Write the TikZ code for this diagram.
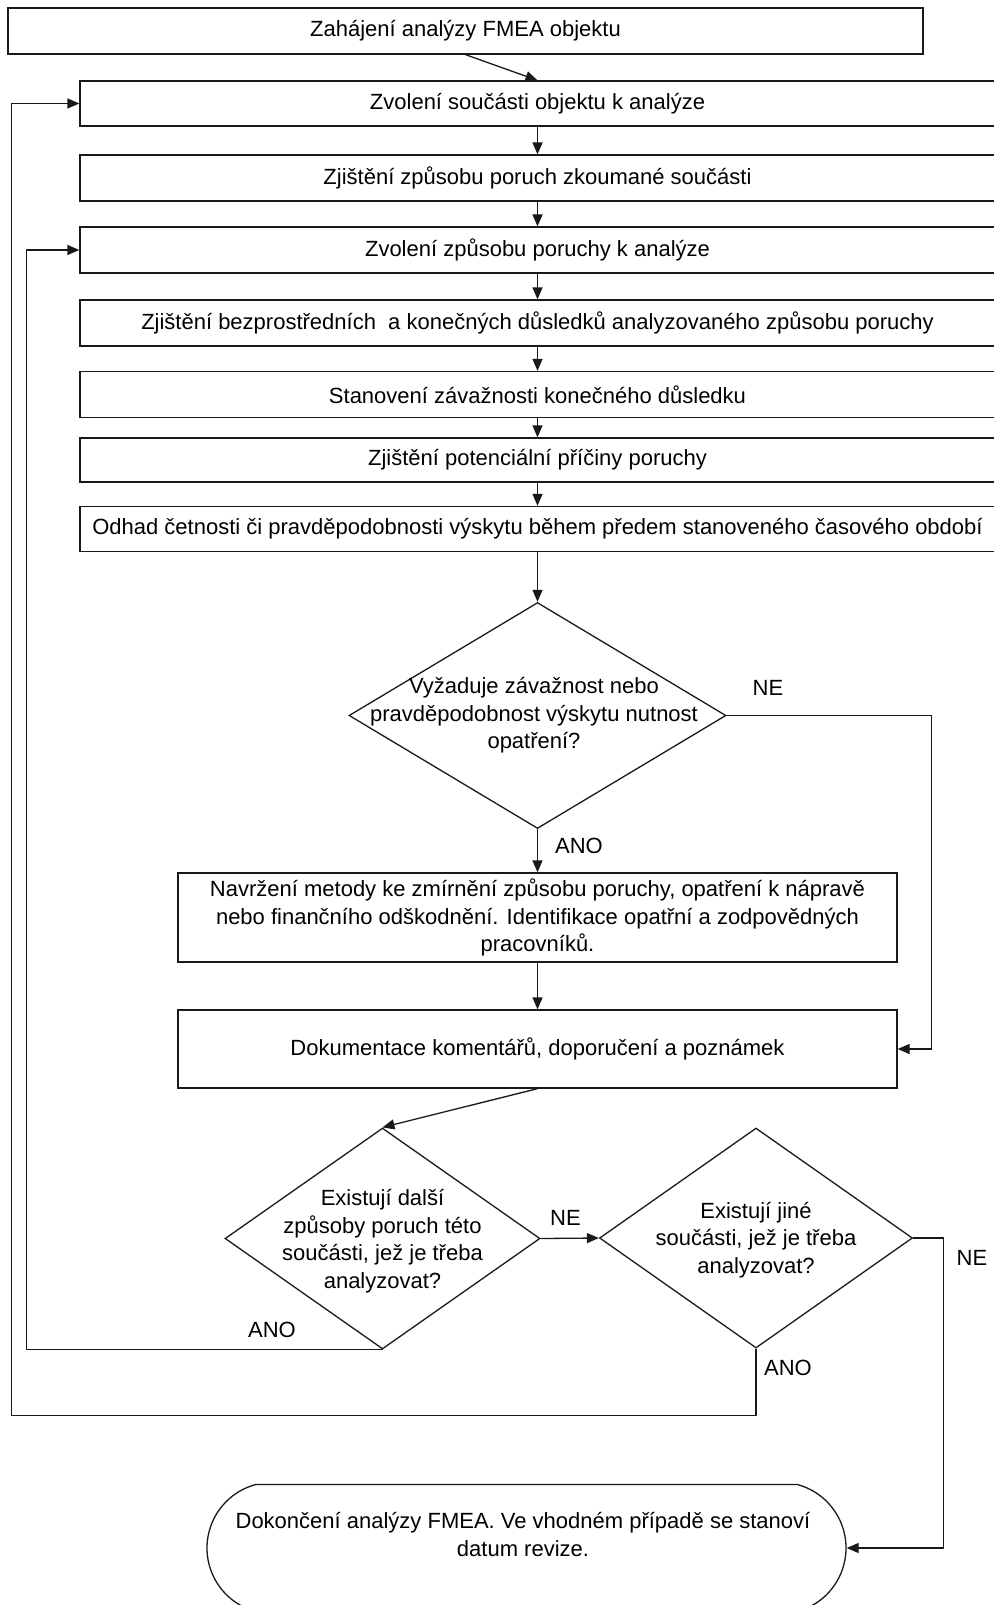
\documentclass[tikz,border=0pt]{standalone}
\usepackage{fontspec}
\setmainfont{Liberation Sans}
\usetikzlibrary{arrows.meta,shapes.geometric,shapes.misc}

\begin{document}
\begin{tikzpicture}[x=1pt,y=-1pt,
  line width=1.3pt,
  font=\fontsize{22}{27.5}\selectfont,
  box/.style={draw=black!90, rectangle, inner sep=0pt, minimum width=915pt},
  midbox/.style={draw=black!90, rectangle, inner sep=0pt, minimum width=719pt, align=center},
  decision/.style={draw=black!90, diamond, inner sep=0pt},
  txt/.style={inner sep=0pt, align=center},
  lbl/.style={inner sep=0pt},
  arr/.style={draw=black!90, -{Triangle[length=12pt,width=10pt]}},
  line/.style={draw=black!90}]

\useasboundingbox (0,0) rectangle (993,1605);

% process steps
\node[box, minimum height=46pt] (b1) at (465.5,31) {Zahájení analýzy FMEA objektu};
\node[box, minimum height=45pt] (b2) at (537.5,103.5) {Zvolení součásti objektu k analýze};
\node[box, minimum height=46pt] (b3) at (537.5,178) {Zjištění způsobu poruch zkoumané součásti};
\node[box, minimum height=46pt] (b4) at (537.5,250) {Zvolení způsobu poruchy k analýze};
\node[box, minimum height=46pt] (b5) at (537.5,323) {Zjištění bezprostředních\ \ a konečných důsledků analyzovaného způsobu poruchy};
\node[box, minimum height=46pt] (b6) at (537.5,394.5) {Stanovení závažnosti konečného důsledku};
\node[box, minimum height=44pt] (b7) at (537.5,460) {Zjištění potenciální příčiny poruchy};
\node[box, minimum height=45pt] (b8) at (537.5,529) {Odhad četnosti či pravděpodobnosti výskytu během předem stanoveného časového období};

% first decision
\node[decision, minimum width=377pt, minimum height=226pt] (d1) at (537.5,715.5) {};
\node[txt] (d1t) at (534,715.5) {Vyžaduje závažnost nebo\\pravděpodobnost výskytu nutnost\\opatření?};

\node[midbox, minimum height=89pt] (b9) at (537.5,917.5) {Navržení metody ke zmírnění způsobu poruchy, opatření k nápravě\\nebo finančního odškodnění. Identifikace opatřní a zodpovědných\\pracovníků.};
\node[midbox, minimum height=78pt] (b10) at (537.5,1049) {Dokumentace komentářů, doporučení a poznámek};

% loop decisions
\node[decision, minimum width=315pt, minimum height=221pt] (d2) at (382.5,1238.5) {};
\node[txt] (d2t) at (382.5,1241) {Existují další\\způsoby poruch této\\součásti, jež je třeba\\analyzovat?};
\node[decision, minimum width=313pt, minimum height=220pt] (d3) at (756,1238) {};
\node[txt] (d3t) at (756,1240) {Existují jiné\\součásti, jež je třeba\\analyzovat?};

% terminal
\node[draw=black!90, rounded rectangle, rounded rectangle arc length=150, inner sep=0pt,
      minimum width=639pt, minimum height=127pt] (term) at (526.5,1548) {};
\node[txt] (termt) at (523,1534.5) {Dokončení analýzy FMEA. Ve vhodném případě se stanoví\\datum revize.};

% main flow
\draw[arr] (b1.south) -- (b2.north);
\draw[arr] (b2.south) -- (b3.north);
\draw[arr] (b3.south) -- (b4.north);
\draw[arr] (b4.south) -- (b5.north);
\draw[arr] (b5.south) -- (b6.north);
\draw[arr] (b6.south) -- (b7.north);
\draw[arr] (b7.south) -- (b8.north);
\draw[arr] (b8.south) -- (d1.north);
\draw[arr] (d1.south) -- (b9.north);
\draw[arr] (d1.east) -- ++(204.5,0) |- (b10.east);
\draw[arr] (b9.south) -- (b10.north);
\draw[arr] (b10.south) -- (d2.north);
\draw[arr] (d2.east) -- (d3.west);
\draw[arr] (d3.east) -- ++(30,0) |- (term.east);

% return loops
\draw[arr] (d3.south) -- ++(0,66.5) -| ([xshift=-68pt]b2.west) -- (b2.west);
\draw[arr] (d2.south) -| ([xshift=-53pt]b4.west) -- (b4.west);

% branch labels
\node[lbl] (ne1) at (768,688) {NE};
\node[lbl] (ano1) at (579,846) {ANO};
\node[lbl] (ne2) at (565.5,1218) {NE};
\node[lbl] (ano2) at (272,1330) {ANO};
\node[lbl] (ne3) at (972,1258) {NE};
\node[lbl] (ano3) at (788,1368) {ANO};

\end{tikzpicture}
\end{document}
